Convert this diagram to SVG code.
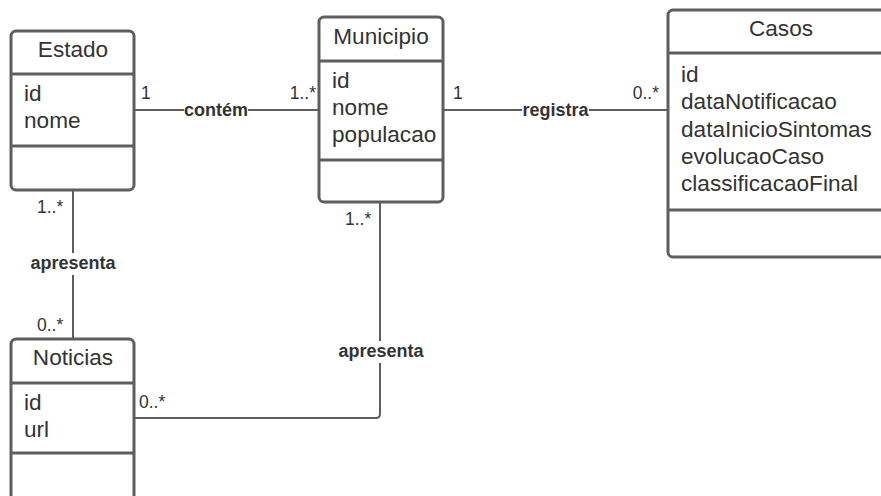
<svg xmlns="http://www.w3.org/2000/svg" width="881" height="496" viewBox="0 0 881 496">
<style>
.box{fill:#fff;stroke:#5e5e5e;stroke-width:3}
.sep{stroke:#5e5e5e;stroke-width:3}
.t{font-family:"Liberation Sans",Arial,sans-serif;font-size:22.6px;fill:#333}
.c{text-anchor:middle}
.m{font-family:"Liberation Sans",Arial,sans-serif;font-size:17.5px;fill:#333}
.e{text-anchor:end}
.l{font-family:"Liberation Sans",Arial,sans-serif;font-size:18px;font-weight:bold;fill:#333;text-anchor:middle}
.ln{fill:none;stroke:#5e5e5e;stroke-width:2}
.bg{fill:#fff}
</style>
<rect width="881" height="496" fill="#fff"/>
<g id="connectors">
<path class="ln" d="M134 110H319"/>
<path class="ln" d="M443 110H668"/>
<path class="ln" d="M73 190V339"/>
<path class="ln" d="M380 202V414Q380 418 376 418H134"/>
<rect class="bg" x="184" y="100" width="64" height="20"/>
<text class="l" x="216" y="116">contém</text>
<rect class="bg" x="522" y="100" width="67" height="20"/>
<text class="l" x="555.5" y="116">registra</text>
<rect class="bg" x="29" y="253" width="88" height="22"/>
<text class="l" x="73" y="269">apresenta</text>
<rect class="bg" x="336" y="341" width="90" height="22"/>
<text class="l" x="381" y="357">apresenta</text>
<text class="m" x="141" y="99">1</text>
<text class="m e" x="316" y="99">1..*</text>
<text class="m" x="453" y="99">1</text>
<text class="m e" x="659" y="99">0..*</text>
<text class="m" x="37" y="213">1..*</text>
<text class="m" x="345" y="225">1..*</text>
<text class="m" x="37" y="331">0..*</text>
<text class="m" x="139" y="408">0..*</text>
</g>
<g id="estado">
<rect class="box" x="11" y="31" width="123" height="159" rx="5"/>
<line class="sep" x1="11" y1="74" x2="134" y2="74"/>
<line class="sep" x1="11" y1="146" x2="134" y2="146"/>
<text class="t c" x="73" y="57">Estado</text>
<text class="t" x="24" y="101">id</text>
<text class="t" x="24" y="128">nome</text>
</g>
<g id="municipio">
<rect class="box" x="319" y="17" width="124" height="185" rx="5"/>
<line class="sep" x1="319" y1="61" x2="443" y2="61"/>
<line class="sep" x1="319" y1="160" x2="443" y2="160"/>
<text class="t c" x="381" y="44">Municipio</text>
<text class="t" x="332" y="88">id</text>
<text class="t" x="332" y="115">nome</text>
<text class="t" x="332" y="142">populacao</text>
</g>
<g id="casos">
<rect class="box" x="668" y="10" width="226" height="247" rx="5"/>
<line class="sep" x1="668" y1="53" x2="894" y2="53"/>
<line class="sep" x1="668" y1="210" x2="894" y2="210"/>
<text class="t c" x="781" y="36">Casos</text>
<text class="t" x="681" y="82">id</text>
<text class="t" x="681" y="109">dataNotificacao</text>
<text class="t" x="681" y="137">dataInicioSintomas</text>
<text class="t" x="681" y="164">evolucaoCaso</text>
<text class="t" x="681" y="191">classificacaoFinal</text>
</g>
<g id="noticias">
<rect class="box" x="11" y="339" width="123" height="170" rx="5"/>
<line class="sep" x1="11" y1="383" x2="134" y2="383"/>
<line class="sep" x1="11" y1="453" x2="134" y2="453"/>
<text class="t c" x="73" y="365">Noticias</text>
<text class="t" x="24" y="410">id</text>
<text class="t" x="24" y="437">url</text>
</g>
</svg>
